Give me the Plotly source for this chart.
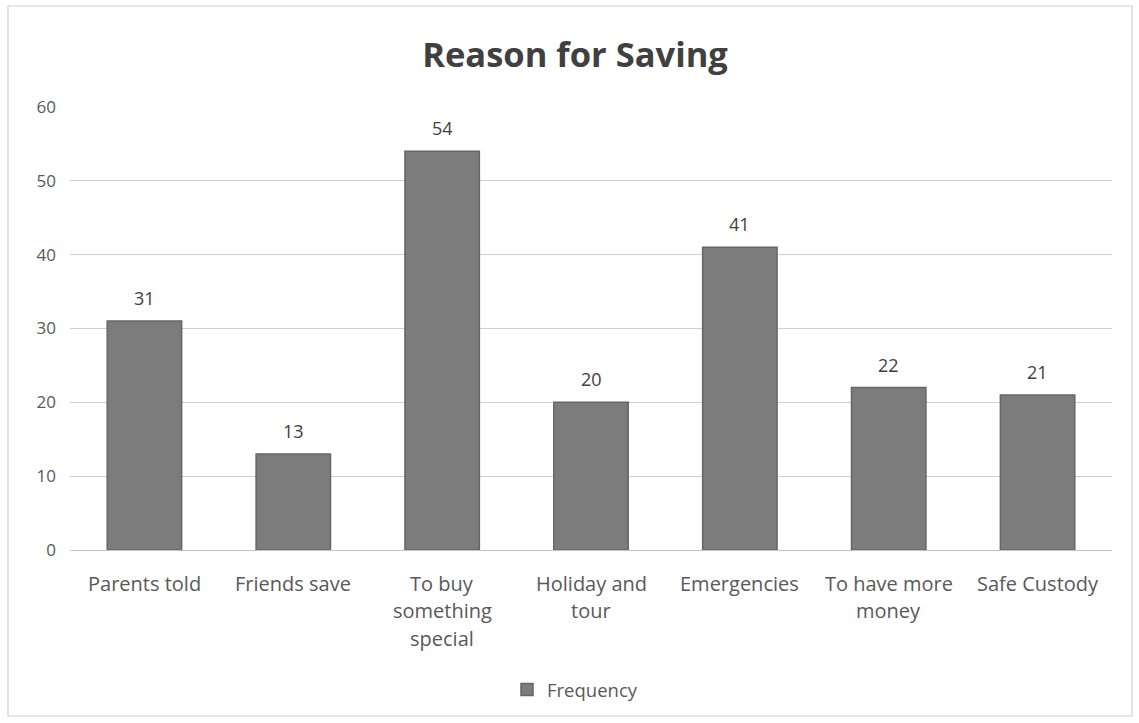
import plotly.graph_objects as go

# Survey results: reasons given for saving money
categories = [
    "Parents told",
    "Friends save",
    "To buy something special",
    "Holiday and tour",
    "Emergencies",
    "To have more money",
    "Safe Custody",
]
# wrapped axis labels, one list of lines per category
tick_lines = [
    ["Parents told"],
    ["Friends save"],
    ["To buy", "something", "special"],
    ["Holiday and", "tour"],
    ["Emergencies"],
    ["To have more", "money"],
    ["Safe Custody"],
]
frequency = [31, 13, 54, 20, 41, 22, 21]
y_ticks = [0, 10, 20, 30, 40, 50, 60]

W, H = 1139, 723
L, R, T, B = 70, 27, 107, 173
plot_w = W - L - R
plot_h = H - T - B

FONT = "'Open Sans', sans-serif"
TEXT = "#595959"
DARK = "#404040"

fig = go.Figure()
fig.add_trace(go.Bar(
    x=categories,
    y=frequency,
    name="Frequency",
    marker=dict(color="#7c7c7c", line=dict(color="#666666", width=1.5)),
    width=0.5,
))

# value labels above each bar
for cat, val in zip(categories, frequency):
    fig.add_annotation(x=cat, y=val, xref="x", yref="y", text=str(val),
                       showarrow=False, yshift=23, yanchor="middle",
                       font=dict(family=FONT, size=18, color=DARK))

# category labels below the axis, with a roomier line spacing
LINE_GAP = 27.5
for cat, lines in zip(categories, tick_lines):
    for i, line in enumerate(lines):
        fig.add_annotation(x=cat, y=0, xref="x", yref="paper", text=line,
                           showarrow=False, yanchor="middle",
                           yshift=-(33 + LINE_GAP * i),
                           font=dict(family=FONT, size=20, color=TEXT))

# outer chart border
def px_x(x):
    return (x - L) / plot_w

def px_y(y):
    return (H - B - y) / plot_h

fig.add_shape(type="rect", xref="paper", yref="paper",
              x0=px_x(8), x1=px_x(1132), y0=px_y(716), y1=px_y(6),
              line=dict(color="#d0d0d0", width=1.2), layer="below")

fig.update_layout(
    width=W, height=H,
    margin=dict(l=L, r=R, t=T, b=B, autoexpand=False),
    paper_bgcolor="white",
    plot_bgcolor="white",
    title=dict(text="<b>Reason for Saving</b>", xref="paper",
               x=px_x(575), xanchor="center",
               y=1 - 55 / H, yanchor="middle",
               font=dict(family=FONT, size=34.5, color=DARK)),
    font=dict(family=FONT, color=TEXT),
    bargap=0.5,
    showlegend=True,
    legend=dict(orientation="h", x=px_x(575), xanchor="center",
                y=px_y(690), yanchor="middle",
                font=dict(family=FONT, size=18.5, color=TEXT),
                itemwidth=30),
    xaxis=dict(
        showticklabels=False,
        showline=True, linecolor="#c4c4c4", linewidth=1.2,
        ticks="", showgrid=False,
    ),
    yaxis=dict(
        range=[0, 60],
        tickvals=y_ticks,
        tickfont=dict(family=FONT, size=17, color=TEXT),
        showgrid=True, gridcolor="#cfcfcf", gridwidth=1.2,
        zeroline=False, showline=False, ticks="",
        ticklabelstandoff=13,
    ),
)

fig.write_html("out.html")
